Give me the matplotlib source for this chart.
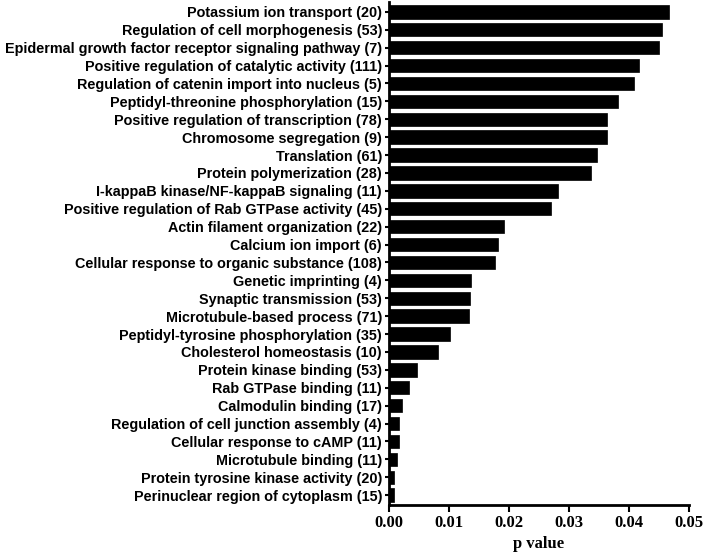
import numpy as np
import matplotlib
matplotlib.use('Agg')
import matplotlib.pyplot as plt

# GO terms (gene counts in brackets) and p values, top to bottom
terms = [
    'Potassium ion transport (20)',
    'Regulation of cell morphogenesis (53)',
    'Epidermal growth factor receptor signaling pathway (7)',
    'Positive regulation of catalytic activity (111)',
    'Regulation of catenin import into nucleus (5)',
    'Peptidyl-threonine phosphorylation (15)',
    'Positive regulation of transcription (78)',
    'Chromosome segregation (9)',
    'Translation (61)',
    'Protein polymerization (28)',
    'I-kappaB kinase/NF-kappaB signaling (11)',
    'Positive regulation of Rab GTPase activity (45)',
    'Actin filament organization (22)',
    'Calcium ion import (6)',
    'Cellular response to organic substance (108)',
    'Genetic imprinting (4)',
    'Synaptic transmission (53)',
    'Microtubule-based process (71)',
    'Peptidyl-tyrosine phosphorylation (35)',
    'Cholesterol homeostasis (10)',
    'Protein kinase binding (53)',
    'Rab GTPase binding (11)',
    'Calmodulin binding (17)',
    'Regulation of cell junction assembly (4)',
    'Cellular response to cAMP (11)',
    'Microtubule binding (11)',
    'Protein tyrosine kinase activity (20)',
    'Perinuclear region of cytoplasm (15)',
]
pvals = [0.0466, 0.0455, 0.0450, 0.0417, 0.0409, 0.0382, 0.0364, 0.0363,
         0.0347, 0.0336, 0.0281, 0.0270, 0.0192, 0.0182, 0.0177, 0.0137,
         0.0135, 0.0133, 0.0102, 0.0081, 0.0047, 0.0034, 0.0022, 0.0016,
         0.0016, 0.0014, 0.0008, 0.0008]
xticks = [0.00, 0.01, 0.02, 0.03, 0.04, 0.05]

fig = plt.figure(figsize=(7.04, 5.56), dpi=100)
ax = fig.add_axes([389/704, 1-505/556, 300/704, 503/556])

y = np.arange(len(terms))
ax.barh(y, pvals, height=0.75, color='black', edgecolor='black', linewidth=0.5)

ax.set_ylim(len(terms)-0.45, -0.55)
ax.set_xlim(0, 0.05)
ax.set_yticks(y)
ax.set_yticklabels(terms, fontfamily='Liberation Sans', fontweight='bold', fontsize=10.4)
ax.set_xticks(xticks)
ax.set_xticklabels(['%.2f' % t for t in xticks], fontfamily='Liberation Serif',
                   fontweight='bold', fontsize=12)
ax.set_xlabel('p value', fontfamily='Liberation Serif', fontweight='bold', fontsize=12,
              labelpad=4)

for s in ['top', 'right']:
    ax.spines[s].set_visible(False)
for s in ['left', 'bottom']:
    ax.spines[s].set_linewidth(2)
ax.tick_params(axis='y', length=3, width=1.5, pad=2)
ax.tick_params(axis='x', length=5, width=1.5, pad=2)

fig.savefig('out.png', dpi=100)
